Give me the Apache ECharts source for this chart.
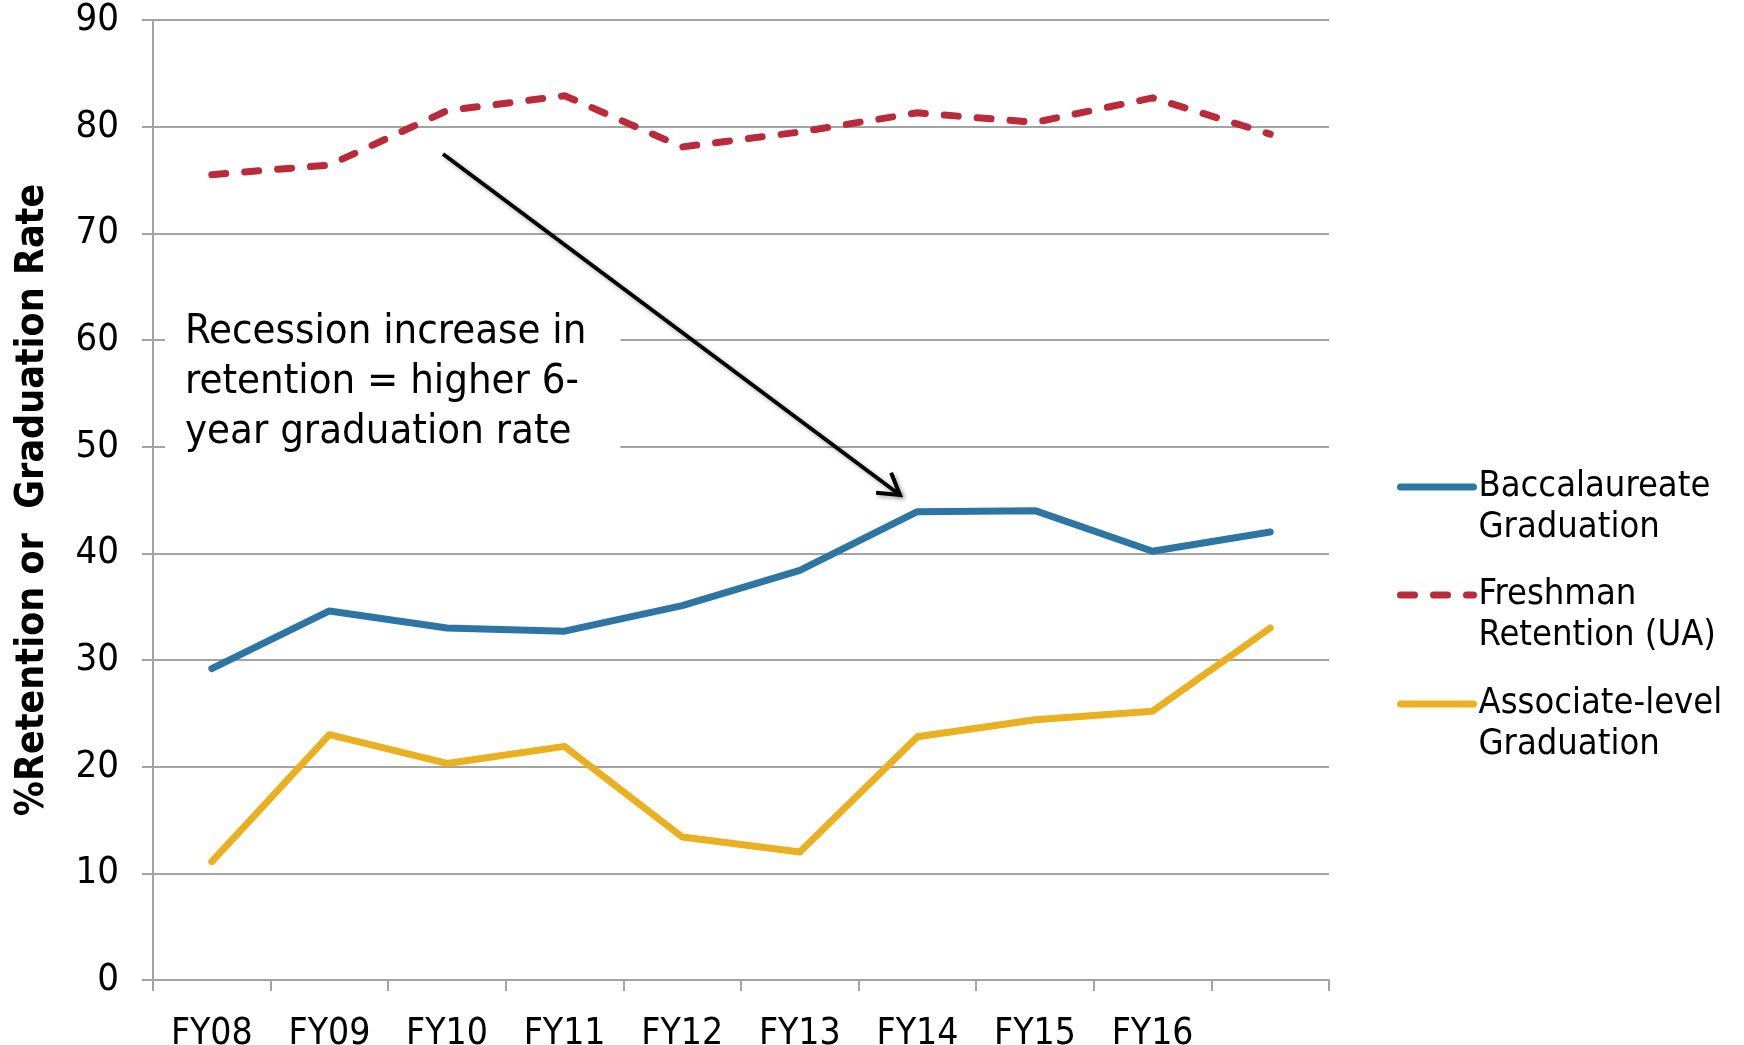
<!DOCTYPE html>
<html>
<head>
<meta charset="utf-8">
<script src="https://cdn.jsdelivr.net/npm/echarts@6/dist/echarts.min.js"></script>
<style>
  html, body { margin: 0; padding: 0; background: #fff; }
  #chart { width: 1744px; height: 1045px; }
</style>
</head>
<body>
<div id="chart"></div>
<script>
// fiscal years (last point has no label on the axis)
var years = ['FY08', 'FY09', 'FY10', 'FY11', 'FY12', 'FY13', 'FY14', 'FY15', 'FY16', '']
var baccalaureate = [29.2, 34.6, 33.0, 32.7, 35.1, 38.4, 43.9, 44.0, 40.2, 42.0]
var freshman = [75.5, 76.4, 81.5, 82.9, 78.1, 79.5, 81.3, 80.4, 82.7, 79.3]
var associate = [11.1, 23.0, 20.3, 21.9, 13.4, 12.0, 22.8, 24.4, 25.2, 33.0]

var names = ['Baccalaureate\nGraduation', 'Freshman\nRetention (UA)', 'Associate-level\nGraduation']

var narrow = '"Liberation Sans Narrow", "DejaVu Sans Condensed", sans-serif'
var cond = '"DejaVu Sans Condensed", "DejaVu Sans", sans-serif'
var gridColor = '#a3a3a3'

var chart = echarts.init(document.getElementById('chart'))

// one legend per series so each block sits where the reference has it;
// a blank first line keeps the icon level with the first text line
function legendAt(name, iconY, width) {
    return {
        data: [name],
        left: 1392,
        top: iconY - 61.5,
        orient: 'vertical',
        selectedMode: false,
        itemWidth: 73,
        itemHeight: 14,
        itemStyle: { opacity: 0 },
        lineStyle: { width: width, cap: 'round' },
        formatter: function (n) { return ' \n' + n },
        textStyle: {
            fontFamily: cond,
            fontSize: 36,
            lineHeight: 41,
            color: '#000'
        }
    }
}

// arrow from the note down to FY14
var ax0 = 443, ay0 = 154, ax1 = 900, ay1 = 495
var ang = Math.atan2(ay1 - ay0, ax1 - ax0)
var headLen = 24, headAng = 0.55
var head = [
    [ax1 - headLen * Math.cos(ang - headAng), ay1 - headLen * Math.sin(ang - headAng)],
    [ax1, ay1],
    [ax1 - headLen * Math.cos(ang + headAng), ay1 - headLen * Math.sin(ang + headAng)]
]
var shadow = { shadowColor: 'rgba(0,0,0,0.35)', shadowBlur: 4, shadowOffsetX: 2, shadowOffsetY: 2 }

var option = {
    animation: false,
    backgroundColor: '#fff',
    grid: {
        left: 153,
        right: 415,
        top: 20,
        bottom: 65,
        outerBoundsMode: 'none'
    },
    legend: [
        legendAt(names[0], 482, 7),
        legendAt(names[1], 590, 7),
        legendAt(names[2], 699, 7)
    ],
    xAxis: {
        type: 'category',
        data: years,
        boundaryGap: true,
        axisLine: { lineStyle: { color: gridColor, width: 2 } },
        axisTick: { show: true, length: 11, lineStyle: { color: gridColor, width: 2 } },
        axisLabel: {
            interval: 0,
            margin: 36,
            fontFamily: narrow,
            fontSize: 37,
            color: '#000'
        },
        splitLine: { show: false }
    },
    yAxis: {
        type: 'value',
        min: 0,
        max: 90,
        interval: 10,
        name: '%Retention or  Graduation Rate',
        nameLocation: 'middle',
        nameRotate: 90,
        nameGap: 101,
        nameTextStyle: {
            fontFamily: narrow,
            fontWeight: 'bold',
            fontSize: 39,
            color: '#000'
        },
        axisLine: { show: true, lineStyle: { color: gridColor, width: 2 } },
        axisTick: { show: true, length: 11, lineStyle: { color: gridColor, width: 2 } },
        axisLabel: {
            margin: 34,
            fontFamily: narrow,
            fontSize: 38,
            color: '#000'
        },
        splitLine: { lineStyle: { color: gridColor, width: 2 } }
    },
    series: [
        {
            name: names[0],
            type: 'line',
            data: baccalaureate,
            symbol: 'none',
            color: '#2d76a4',
            lineStyle: { width: 7, color: '#2d76a4', cap: 'round', join: 'round' }
        },
        {
            name: names[1],
            type: 'line',
            data: freshman,
            symbol: 'none',
            color: '#b92a3a',
            lineStyle: { width: 7, color: '#b92a3a', type: [14, 19], cap: 'round', join: 'round' }
        },
        {
            name: names[2],
            type: 'line',
            data: associate,
            symbol: 'none',
            color: '#e9b021',
            lineStyle: { width: 7, color: '#e9b021', cap: 'round', join: 'round' }
        }
    ],
    graphic: [
        {
            type: 'line',
            shape: { x1: ax0, y1: ay0, x2: ax1, y2: ay1 },
            style: Object.assign({ stroke: '#000', lineWidth: 4 }, shadow),
            z: 100
        },
        {
            type: 'polyline',
            shape: { points: head },
            style: Object.assign({ stroke: '#000', lineWidth: 4, fill: null }, shadow),
            z: 100
        },
        {
            type: 'text',
            left: 165,
            top: 293,
            z: 101,
            style: {
                text: 'Recession increase in\nretention = higher 6-\nyear graduation rate',
                fontFamily: cond,
                fontSize: 41.5,
                lineHeight: 50,
                fill: '#000',
                backgroundColor: '#fff',
                padding: [14, 34, 14, 20]
            }
        }
    ]
}

chart.setOption(option)
</script>
</body>
</html>
